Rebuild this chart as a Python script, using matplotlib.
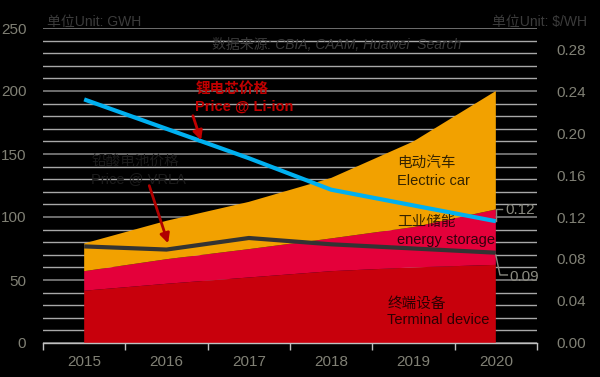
import matplotlib
matplotlib.use("Agg")
import matplotlib.pyplot as plt
import numpy as np

plt.rcParams['font.family'] = ['Liberation Sans', 'Noto Sans CJK SC']

years = [2015, 2016, 2017, 2018, 2019, 2020]
terminal = [41.5, 47, 52, 57, 60, 62]
storage = [15.5, 19.5, 22.5, 26, 32, 44]
ev = [22, 30.5, 37.5, 48, 68, 94]
price_liion = [0.232, 0.204, 0.176, 0.146, 0.131, 0.116]
price_vrla = [0.092, 0.089, 0.100, 0.094, 0.090, 0.086]
left_ticks = [0, 50, 100, 150, 200, 250]
right_ticks = [0.00, 0.04, 0.08, 0.12, 0.16, 0.20, 0.24, 0.28]

area_colors = ['#c8000c', '#e4003a', '#f2a100']
tick_color = '#808075'

fig = plt.figure(figsize=(6, 3.77), dpi=100, facecolor='black')
ax = fig.add_axes([43/600, 34/377, 494/600, 315/377])
ax.set_facecolor('black')

ax.stackplot(years, terminal, storage, ev, colors=area_colors, linewidth=0, zorder=2)

ax.set_xlim(2014.5, 2020.5)
ax.set_ylim(0, 250)
ax.set_yticks(left_ticks)
ax.set_yticks(np.arange(10, 250, 10), minor=True)
ax.grid(True, which='minor', axis='y', color='#a8a8a8', lw=1.0, zorder=0)
ax.grid(True, which='major', axis='y', color='#767676', lw=1.3, zorder=0)
ax.set_axisbelow(True)
ax.set_xticks(years)
ax.set_xticks(np.arange(2014.5, 2020.6, 1), minor=True)
ax.tick_params(axis='x', which='major', length=0, pad=9, labelsize=11, labelcolor=tick_color)
ax.tick_params(axis='x', which='minor', length=5, color='#c0c0c0', width=1)
ax.tick_params(axis='y', which='both', length=0, pad=12, labelsize=11, labelcolor=tick_color)
for s in ['left', 'right', 'top']:
    ax.spines[s].set_visible(False)
ax.spines['bottom'].set_color('#c0c0c0')
ax.spines['bottom'].set_linewidth(1)

ax2 = ax.twinx()
ax2.set_ylim(0, 0.3)
ax2.set_yticks(right_ticks)
ax2.set_yticklabels([f'{v:.2f}' for v in right_ticks])
ax2.tick_params(axis='y', length=0, pad=14, labelsize=11, labelcolor=tick_color)
for s in ax2.spines.values():
    s.set_visible(False)
ax2.patch.set_visible(False)

ax2.plot(years, price_vrla, color='#333333', lw=3, solid_capstyle='butt', zorder=3)
ax2.plot(years, price_liion, color='#00b0f0', lw=3, solid_capstyle='butt', zorder=4)

T = ax.transData
dark = (0, 0, 0, 0.78)
kw = dict(transform=T, va='center', ha='left', fontsize=10.5, zorder=6)
ax2.text(2018.80, 142.9, '电动汽车', color=dark, **kw)
ax2.text(2018.80, 128.6, 'Electric car', color=dark, **kw)
ax2.text(2018.80, 96.0, '工业储能', color=dark, **kw)
ax2.text(2018.80, 81.7, 'energy storage', color=dark, **kw)
ax2.text(2018.68, 31.0, '终端设备', color=dark, **kw)
ax2.text(2018.68, 18.3, 'Terminal device', color=dark, **kw)

ax2.text(2016.35, 200.8, '锂电芯价格', color='#c00000', fontweight='bold', **kw)
ax2.text(2016.35, 187.3, 'Price @ Li-ion', color='#c00000', fontweight='bold', **kw)
ax2.annotate('', xy=(2016.43, 158.7), xytext=(2016.31, 182.5), xycoords=T, textcoords=T,
             arrowprops=dict(arrowstyle='-|>', color='#c00000', lw=2, mutation_scale=14), zorder=6)

ax2.text(2015.085, 143.7, '铅酸电池价格', color='#1c1c1c', **kw)
ax2.text(2015.085, 130.2, 'Price @ VRLA', color='#1c1c1c', **kw)
ax2.annotate('', xy=(2016.03, 77), xytext=(2015.78, 127), xycoords=T, textcoords=T,
             arrowprops=dict(arrowstyle='-|>', color='#b00000', lw=2, mutation_scale=14), zorder=6)

# leader labels
lead = '#8a8a80'
ax2.plot([2020.0, 2020.0, 2020.08], [96.5, 106.3, 106.3], transform=T, color=lead, lw=1, zorder=5)
ax2.text(2020.12, 105.6, '0.12', transform=T, color=lead, fontsize=11, va='center', ha='left', zorder=6)
ax2.plot([2020.0, 2020.05, 2020.14], [69.8, 54.0, 54.0], transform=T, color=lead, lw=1, zorder=5)
ax2.text(2020.16, 52.4, '0.09', transform=T, color=lead, fontsize=11, va='center', ha='left', zorder=6)

fig.text(47/600, 1 - 22/377, '单位Unit: GWH', color='#3c3c3c', fontsize=10, va='center', ha='left')
fig.text(492/600, 1 - 22/377, '单位Unit: $/WH', color='#3c3c3c', fontsize=10, va='center', ha='left')
fig.text(337/600, 1 - 45/377, '数据来源: CBIA, CAAM, Huawei  Search', color='#3a3a3a',
         fontsize=10, style='italic', va='center', ha='center')

fig.savefig('out.png', dpi=100, facecolor='black')
